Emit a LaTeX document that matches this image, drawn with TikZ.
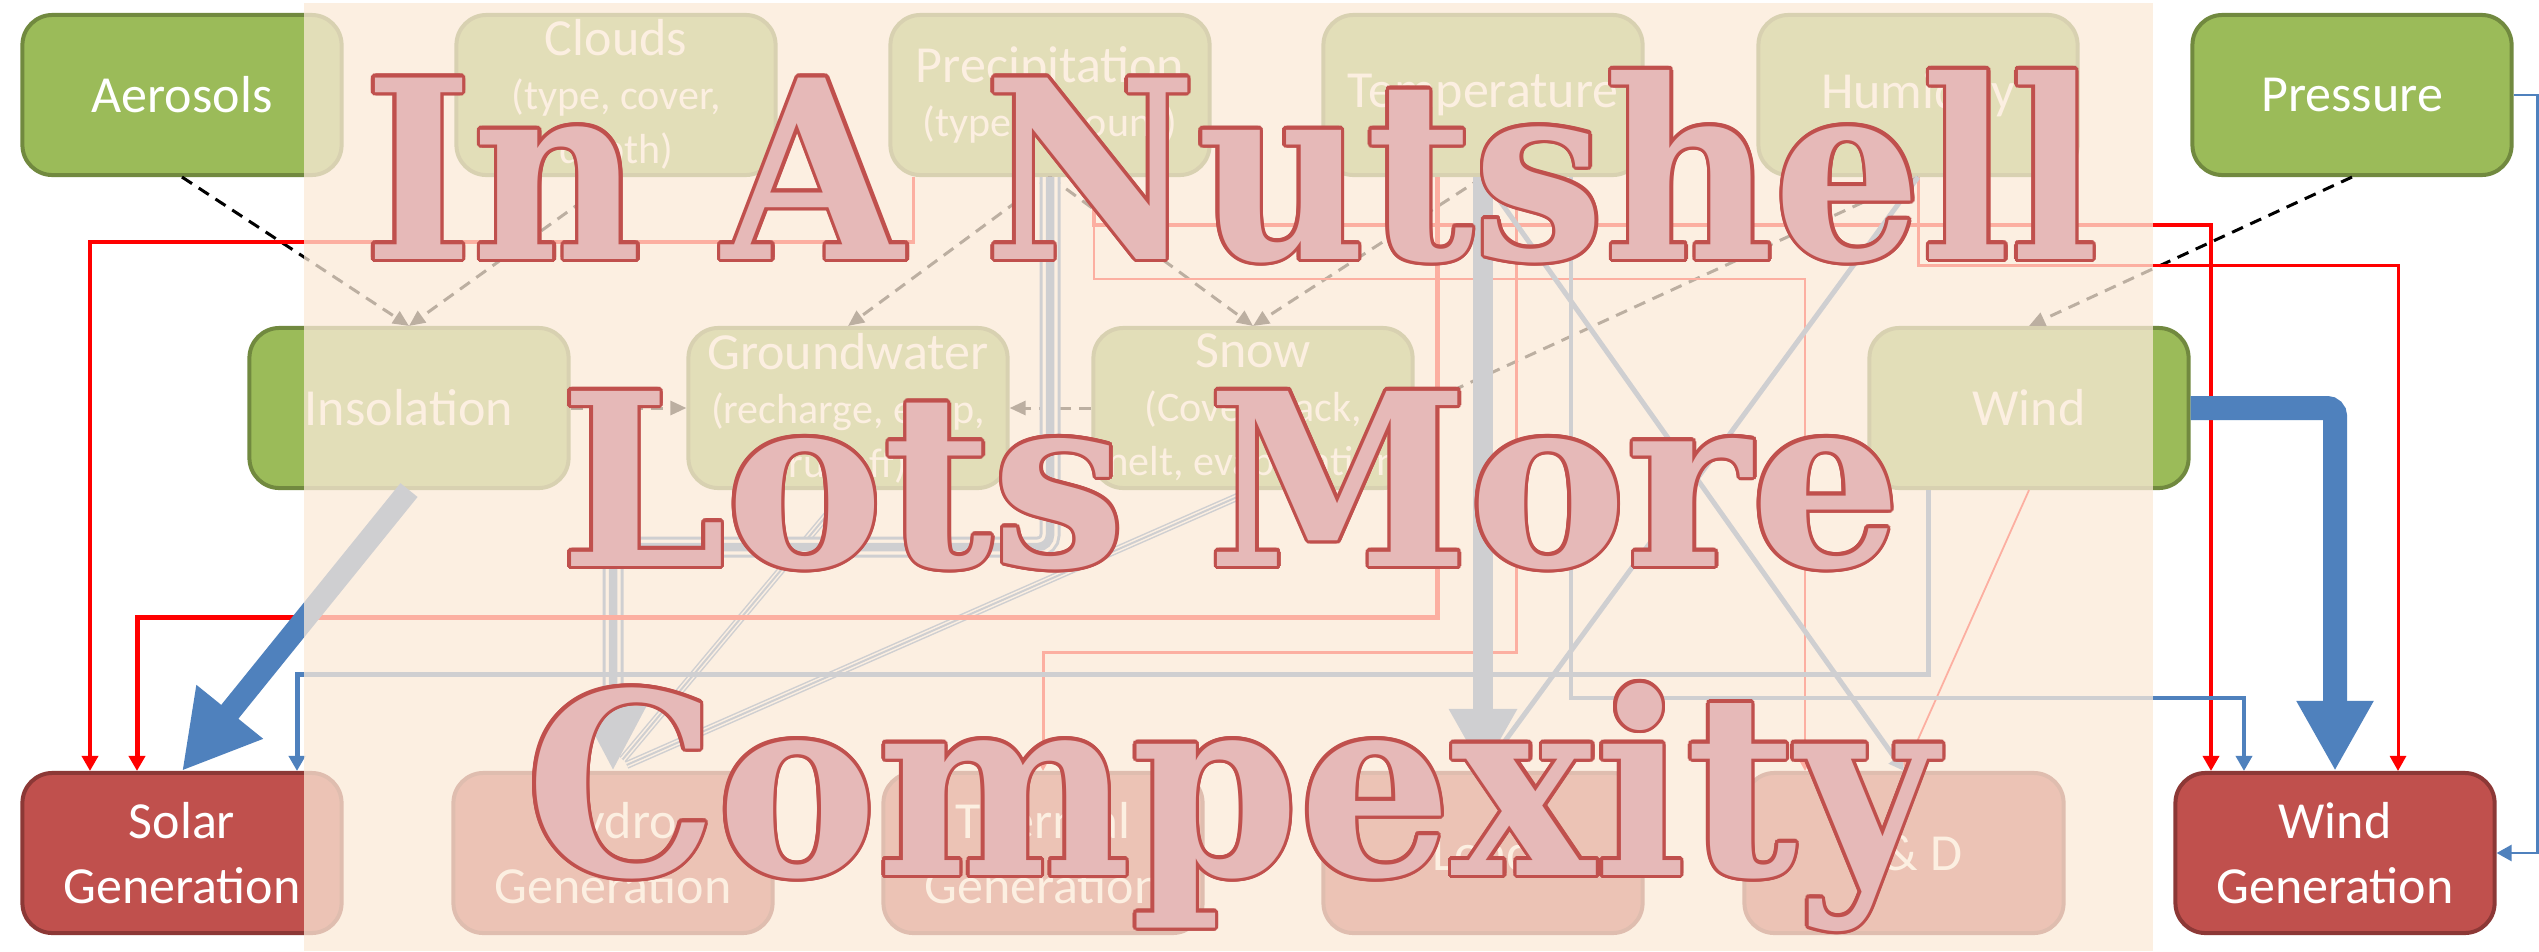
\documentclass[tikz,border=0pt]{standalone}
\usepackage{fontspec}
\setmainfont{Carlito}
\newfontfamily\bigserif{DejaVu Serif}
\usetikzlibrary{arrows.meta,calc}
\definecolor{gfill}{HTML}{9BBB59}
\definecolor{gdraw}{HTML}{71893F}
\definecolor{rfill}{HTML}{C0504D}
\definecolor{rdraw}{HTML}{8C3836}
\definecolor{bl}{HTML}{4F81BD}
\definecolor{rd}{HTML}{FF0000}
\definecolor{veil}{RGB}{251,234,216}
\definecolor{bigfill}{HTML}{E6B9B8}
\definecolor{bigline}{HTML}{C0504D}
\newcommand\smtxt{\fontsize{11.95pt}{15.4pt}\selectfont}
\newcommand\lineone{\resizebox{17.33cm}{1.89cm}{\bigserif\bfseries In A Nutshell}}
\newcommand\linetwo{\resizebox{13.40cm}{1.75cm}{\bigserif\bfseries Lots More}}
\newcommand\linethree{\resizebox{14.10cm}{1.92cm}{\bigserif\bfseries Compexity}}
\begin{document}
\begin{tikzpicture}[x=0.01cm,y=-0.01cm,
  box/.style={rounded corners=0.3cm, line width=0.04cm, minimum width=3.19cm,
    minimum height=1.6cm, inner sep=0pt, text=white, align=center,
    font={\fontsize{14.8pt}{15.4pt}\selectfont}},
  gbox/.style={box, fill=gfill, draw=gdraw},
  rbox/.style={box, fill=rfill, draw=rdraw, font={\fontsize{14.8pt}{18.5pt}\selectfont}},
  rarrow/.style={draw=rd, -{Triangle[length=0.15cm,width=0.16cm]}},
  barrow/.style={draw=bl, -{Triangle[length=0.15cm,width=0.16cm]}},
  dasharrow/.style={draw=black, line width=0.03cm, dash pattern=on 0.12cm off 0.08cm,
    -{Triangle[length=0.16cm,width=0.14cm]}},
  bigtxt/.style={anchor=base west, inner sep=0pt, outer sep=0pt}
]
\useasboundingbox (0,0) rectangle (2539,951);
\fill[white] (0,0) rectangle (2539,951);

% ---------- boxes ----------
\node[gbox] (aer) at (182,95) {Aerosols};
\node[gbox] (clouds) at (616,95) {Clouds\\\smtxt (type, cover,\\\smtxt depth)};
\node[gbox] (prec) at (1050,95) {Precipitation\\\smtxt (type, amount)};
\node[gbox] (temp) at (1483,95) {Temperature};
\node[gbox] (hum) at (1918,95) {Humidity};
\node[gbox] (press) at (2352,95) {Pressure};
\node[gbox] (insol) at (409,408) {Insolation};
\node[gbox] (gw) at (848,408) {Groundwater\\\smtxt (recharge, evap,\\\smtxt runoff)};
\node[gbox] (snow) at (1253,408) {Snow\\\smtxt (Cover, pack,\\\smtxt melt, evaporation)};
\node[gbox] (wind) at (2029,408) {Wind};
\node[rbox] (solar) at (182,853) {Solar\\Generation};
\node[rbox] (hydro) at (613,853) {Hydro\\Generation};
\node[rbox] (therm) at (1043,853) {Thermal\\Generation};
\node[rbox] (load) at (1483,853) {Load};
\node[rbox] (td) at (1904,853) {T \& D};
\node[rbox] (wgen) at (2335,853) {Wind\\Generation};

% ---------- dashed influences ----------
\draw[dasharrow] (aer.south) -- (insol.north);
\draw[dasharrow] (clouds.south) -- (insol.north);
\draw[dasharrow] (prec.south) -- (gw.north);
\draw[dasharrow] (prec.south) -- (snow.north);
\draw[dasharrow] (temp.south) -- (snow.north);
\draw[dasharrow] (hum.south) -- (snow.east);
\draw[dasharrow] (press.south) -- (wind.north);
\draw[dasharrow] (insol.east) -- (gw.west);
\draw[dasharrow] (snow.west) -- (gw.east);

% ---------- compound lines into hydro ----------
\foreach \src in {gw,snow}{
  \draw[bl, line width=0.08cm, shorten >=0.15cm] (\src.south) -- (hydro.north);
  \draw[white, line width=0.05cm, shorten >=0.15cm] (\src.south) -- (hydro.north);
  \draw[bl, line width=0.02cm, shorten >=0.15cm] (\src.south) -- (hydro.north);
}
\draw[bl, line width=0.21cm, rounded corners=0.12cm, shorten >=0.6cm] (prec.south) -- ++(0,370) -| (hydro.north);
\draw[white, line width=0.15cm, rounded corners=0.12cm, shorten >=0.6cm] (prec.south) -- ++(0,370) -| (hydro.north);
\draw[bl, line width=0.085cm, rounded corners=0.12cm, shorten >=0.6cm] (prec.south) -- ++(0,370) -| (hydro.north);
\draw[bl, line width=0.21cm, -{Triangle[length=0.65cm,width=0.62cm]}] ($(hydro.north)+(0,-66)$) -- (hydro.north);

% ---------- red connectors ----------
\draw[rarrow, line width=0.035cm] ($(prec.south west)+(25,0)$) -- ++(0,65) -| ($(solar.north)+(-92,0)$);
\draw[rarrow, line width=0.05cm] ($(temp.south)+(-46,0)$) -- ++(0,440) -| ($(solar.north)+(-45,0)$);
\draw[rarrow, line width=0.03cm] ($(temp.south)+(33,0)$) -- ++(0,475) -| (therm.north);
\draw[rarrow, line width=0.035cm] ($(prec.south)+(44,0)$) -- ++(0,48) -| ($(wgen.north)+(-124,0)$);
\draw[rarrow, line width=0.025cm] ($(prec.south)+(44,0)$) -- ++(0,102) -| ($(td.north)+(-99,0)$);
\draw[rarrow, line width=0.03cm] (hum.south) -- ++(0,88) -| ($(wgen.north)+(63,0)$);
\draw[rarrow, line width=0.018cm] (wind.south) -- (td.north);

% ---------- blue connectors ----------
\draw[barrow, line width=0.05cm] (hum.south) -- (load.north);
\draw[barrow, line width=0.05cm] (temp.south) -- (td.north);
\draw[barrow, line width=0.05cm] ($(wind.south)+(-101,0)$) -- ++(0,184) -| ($(solar.north)+(115,0)$);
\draw[barrow, line width=0.035cm] ($(temp.south)+(88,0)$) -- ++(0,521) -| ($(wgen.north)+(-91,0)$);
\draw[barrow, line width=0.025cm] (press.east) -- ++(24,0) |- (wgen.east);
\draw[draw=bl, line width=0.22cm, -{Triangle[length=0.76cm,width=0.8cm]}] (insol.south) -- (solar.north);
\draw[draw=bl, line width=0.24cm, rounded corners=0.08cm, -{Triangle[length=0.7cm,width=0.72cm]}] (wind.east) -| (wgen.north);
\draw[draw=bl, line width=0.2cm, -{Triangle[length=0.62cm,width=0.64cm]}] (temp.south) -- (load.north);

% ---------- veil ----------
\fill[veil, opacity=0.75] (304,3) rectangle (2153,951);

% ---------- big outlined text ----------
\foreach \a [count=\i] in {0,22.5,...,337.5}{
  \node[bigtxt, text=bigline] (ta\i) at ($(364,259)+(\a:3.5)$) {\lineone};
  \node[bigtxt, text=bigline] (tb\i) at ($(560,566)+(\a:3.5)$) {\linetwo};
  \node[bigtxt, text=bigline] (tc\i) at ($(526,875)+(\a:3.5)$) {\linethree};
}
\node[bigtxt, text=bigfill] (t1) at (364,259) {\lineone};
\node[bigtxt, text=bigfill] (t2) at (560,566) {\linetwo};
\node[bigtxt, text=bigfill] (t3) at (526,875) {\linethree};
\end{tikzpicture}
\end{document}
